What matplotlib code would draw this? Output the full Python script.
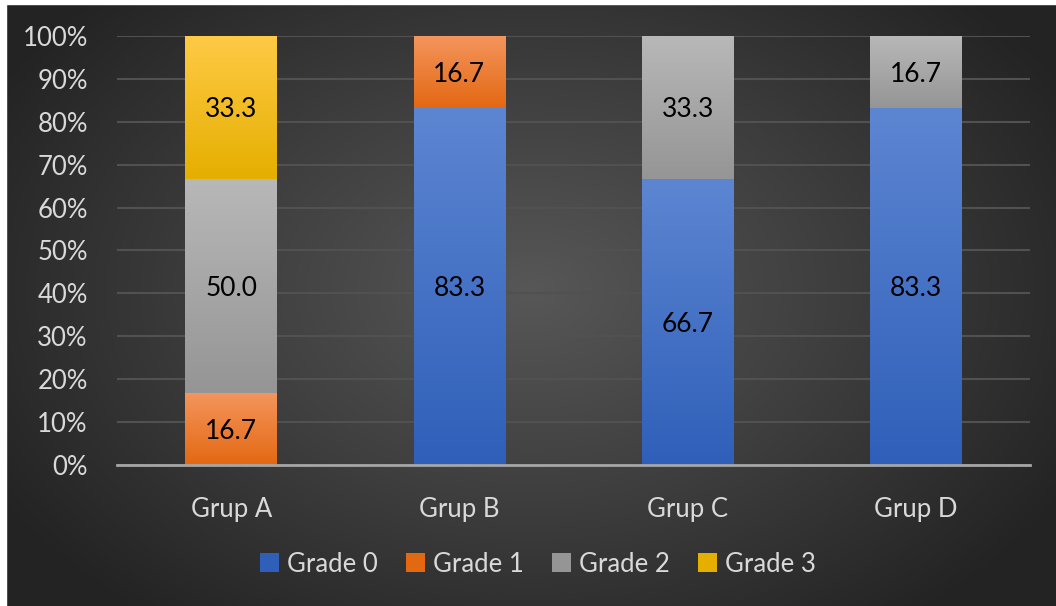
import numpy as np
import matplotlib
matplotlib.use('Agg')
import matplotlib.pyplot as plt
from matplotlib.patches import Patch, Rectangle
from matplotlib.colors import LinearSegmentedColormap

plt.rcParams['font.family'] = ['Lato', 'DejaVu Sans']

groups = ['Grup A', 'Grup B', 'Grup C', 'Grup D']
series = ['Grade 0', 'Grade 1', 'Grade 2', 'Grade 3']
grade0 = [0.0, 83.3, 66.7, 83.3]
grade1 = [16.7, 16.7, 0.0, 0.0]
grade2 = [50.0, 0.0, 33.3, 16.7]
grade3 = [33.3, 0.0, 0.0, 0.0]
yticks = [0, 10, 20, 30, 40, 50, 60, 70, 80, 90, 100]

# (top colour, bottom colour) for each grade gradient
grad_cols = [('#5D86D2', '#2F5FB9'),
             ('#F4955C', '#E36812'),
             ('#B8B8B8', '#959595'),
             ('#FFCA45', '#E5AF00')]

W, H = 1056, 606
fig = plt.figure(figsize=(W / 100, H / 100), dpi=100)

# radial gradient background
bg = fig.add_axes([0, 0, 1, 1], zorder=-10)
yy, xx = np.mgrid[0:H, 0:W]
r = np.sqrt(((xx - 530) / 620.0) ** 2 + ((yy - 290) / 420.0) ** 2)
r = np.clip(r, 0, 1)
bg_cmap = LinearSegmentedColormap.from_list('bg', ['#575757', '#3e3e3e', '#232323'])
bg.imshow(r, cmap=bg_cmap, aspect='auto', extent=[0, W, H, 0], vmin=0, vmax=1)
bg.set_xlim(0, W)
bg.set_ylim(H, 0)
bg.axis('off')
# white frame on top and left edges
bg.add_patch(Rectangle((0, 0), W, 4, color='white', zorder=5))
bg.add_patch(Rectangle((0, 0), 6, H, color='white', zorder=5))

ax = fig.add_axes([0.1108, 0.2327, 0.8646, 0.7079])
ax.patch.set_alpha(0)

x = np.arange(len(groups))
bottom = np.zeros(len(groups))
grad = np.linspace(0, 1, 256).reshape(-1, 1)
for vals, name, (ctop, cbot) in zip([grade0, grade1, grade2, grade3], series, grad_cols):
    vals = np.array(vals)
    bars = ax.bar(x, vals, 0.40, bottom=bottom, color=cbot, label=name,
                  linewidth=0, zorder=3)
    cmap = LinearSegmentedColormap.from_list(name, [cbot, ctop])
    for b, v in zip(bars, vals):
        if v <= 0:
            continue
        x0, y0 = b.get_x(), b.get_y()
        w, h = b.get_width(), b.get_height()
        im = ax.imshow(grad, cmap=cmap, origin='lower', aspect='auto',
                       extent=[x0, x0 + w, y0, y0 + h], zorder=4)
        im.set_clip_path(b)
        ax.text(x0 + w / 2, y0 + h / 2, f'{v:.1f}', ha='center',
                va='center_baseline', fontsize=19, color='black', zorder=6)
    bottom += vals

ax.set_xlim(-0.5, 3.5)
ax.set_ylim(0, 100)
ax.set_yticks(yticks)
ax.set_yticklabels([f'{t}%' for t in yticks])
ax.set_xticks(x)
ax.set_xticklabels(groups)
ax.tick_params(axis='both', length=0, labelsize=18.5, labelcolor='#D9D9D9')
ax.tick_params(axis='y', pad=21)
ax.tick_params(axis='x', pad=23)
ax.grid(axis='y', color='#515151', linewidth=1.5, zorder=0)
ax.set_axisbelow(True)
for side in ['top', 'right', 'left']:
    ax.spines[side].set_visible(False)
ax.spines['bottom'].set_color('#A6A6A6')
ax.spines['bottom'].set_linewidth(2)
ax.spines['bottom'].set_zorder(7)

handles = [Patch(facecolor=c[1], label=s) for s, c in zip(series, grad_cols)]
fig.legend(handles=handles, loc='center', bbox_to_anchor=(538 / W, 1 - 564 / H),
           ncol=4, frameon=False, fontsize=18.5, labelcolor='#D9D9D9',
           handlelength=0.75, handleheight=0.75, handletextpad=0.3,
           columnspacing=1.1)

fig.savefig('out.png', dpi=100)
